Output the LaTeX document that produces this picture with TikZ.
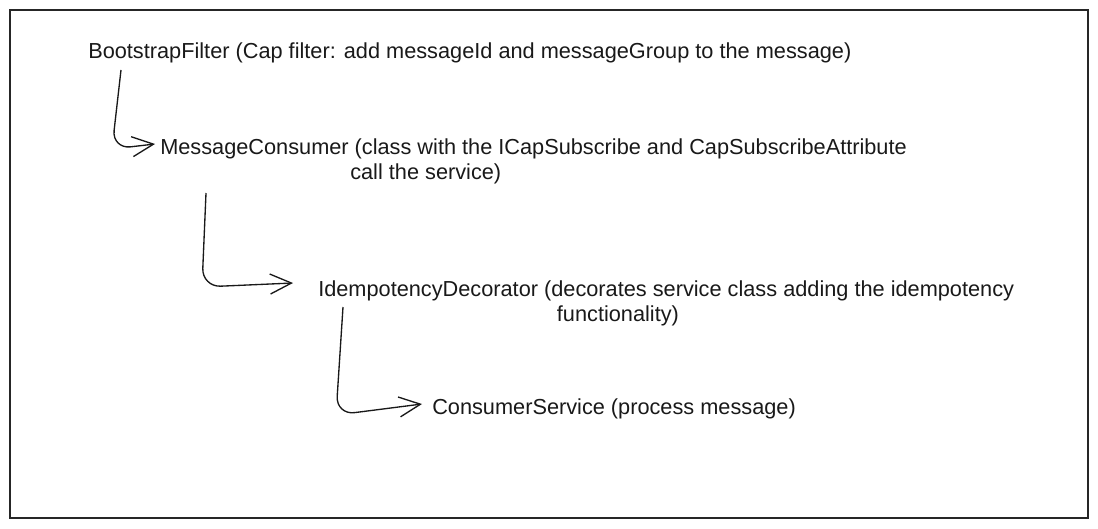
\documentclass[tikz,border=0pt]{standalone}
\usepackage{fontspec}
\setmainfont{Liberation Sans}
\usetikzlibrary{arrows.meta}
\tikzset{
  lbl/.style={anchor=base west, inner sep=0pt, font=\fontsize{16.3pt}{18.5pt}\selectfont, align=left, text=black!90},
  conn/.style={draw=black!90, line width=1pt, rounded corners=14pt, -{Straight Barb[length=16pt,width=15pt,line width=1pt]}},
  frame/.style={draw=black!85, line width=1.1pt}
}
\begin{document}
\begin{tikzpicture}[x=0.75pt,y=-0.75pt]
\useasboundingbox (0,0) rectangle (1098,528);
\draw[frame] (10,10) rectangle (1088,518);
\node[lbl] (t1) at (88,59) {BootstrapFilter (Cap filter: add messageId and messageGroup to the message)};
\node[lbl] (t2) at (160,179) {MessageConsumer (class with the ICapSubscribe and CapSubscribeAttribute\\\hspace*{142.5pt}call the service)};
\node[lbl] (t3) at (318,321) {IdempotencyDecorator (decorates service class adding the idempotency\\\hspace*{179pt}functionality)};
\node[lbl] (t4) at (432,414) {ConsumerService (process message)};
\draw[conn] ([shift={(33,11)}]t1.base west) -- (112,149) -- ([shift={(-5,-35)}]t2.base west);
\draw[conn] ([shift={(46,14)}]t2.base west) -- (202,287) -- ([shift={(-25,-38)}]t3.base west);
\draw[conn] ([shift={(25,-14)}]t3.base west) -- (336,415) -- ([shift={(-10,-10)}]t4.base west);
\end{tikzpicture}
\end{document}
